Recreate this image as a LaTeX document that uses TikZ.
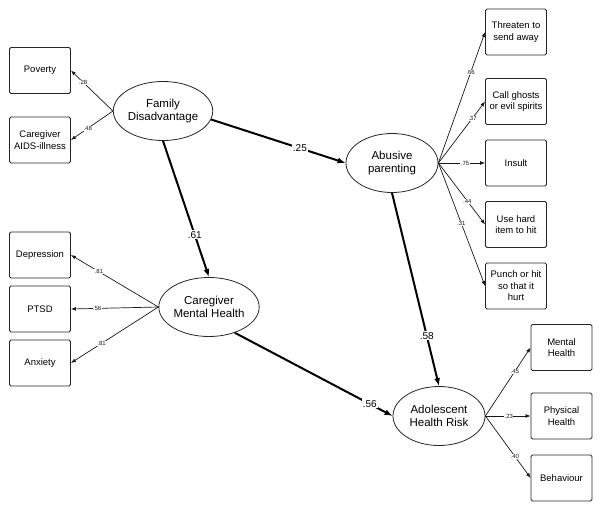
\documentclass[tikz,border=0pt]{standalone}
\usepackage{fontspec}
\setmainfont{Liberation Sans}
\usetikzlibrary{shapes.geometric,arrows.meta}
\begin{document}
\begin{tikzpicture}[x=1pt,y=-1pt,
  obsbox/.style={draw=black!85,line width=0.8pt,rounded corners=1.5pt,minimum width=61pt,minimum height=46pt,inner sep=1pt,align=center,font=\fontsize{9.5}{11.5}\selectfont},
  latent/.style={draw=black!85,line width=0.8pt,ellipse,minimum width=92pt,minimum height=59pt,inner sep=0pt,align=center,font=\fontsize{11.5}{13.5}\selectfont},
  thinarrow/.style={draw=black!90,line width=0.7pt,-{Latex[length=5pt,width=3.8pt]}},
  thickarrow/.style={draw=black,line width=2pt,-{Latex[length=8pt,width=6pt]}},
  smalllab/.style={fill=white,inner sep=0.4pt,font=\fontsize{6}{6.5}\selectfont,text=black!90},
  biglab/.style={fill=white,inner sep=1pt,font=\fontsize{10}{11}\selectfont}]
\useasboundingbox (0,0) rectangle (602,511);
% latent variables
\node[latent] (fd) at (163,111) {Family\\Disadvantage};
\node[latent] (ap) at (392,163) {Abusive\\parenting};
\node[latent] (cmh) at (209,307) {Caregiver\\Mental Health};
\node[latent] (ahr) at (439,416) {Adolescent\\Health Risk};
% observed left
\node[obsbox] (pov) at (40,70.5) {Poverty};
\node[obsbox] (aids) at (40,140) {Caregiver\\AIDS-illness};
\node[obsbox] (dep) at (40,255) {Depression};
\node[obsbox] (ptsd) at (40,309) {PTSD};
\node[obsbox] (anx) at (40,363) {Anxiety};
% observed right
\node[obsbox] (thr) at (516,32) {Threaten to\\send away};
\node[obsbox] (ghost) at (516,101.5) {Call ghosts\\or evil spirits};
\node[obsbox] (ins) at (516,163) {Insult};
\node[obsbox] (hard) at (516,224.5) {Use hard\\item to hit};
\node[obsbox] (punch) at (516,286) {Punch or hit\\so that it\\hurt};
\node[obsbox] (mh) at (561.5,347.5) {Mental\\Health};
\node[obsbox] (ph) at (561.5,416) {Physical\\Health};
\node[obsbox] (beh) at (561.5,478) {Behaviour};
% thin loadings
\draw[thinarrow] (fd.west) -- node[smalllab,pos=0.71] {.28} (pov.east);
\draw[thinarrow] (fd.west) -- node[smalllab,pos=0.6] {.48} (aids.east);
\draw[thinarrow] (cmh.west) -- node[smalllab,pos=0.68] {.81} (dep.east);
\draw[thinarrow] (cmh.west) -- node[smalllab,pos=0.7] {.56} (ptsd.east);
\draw[thinarrow] (cmh.west) -- node[smalllab,pos=0.65] {.81} (anx.east);
\draw[thinarrow] (ap.east) -- node[smalllab,pos=0.69] {.66} (thr.west);
\draw[thinarrow] (ap.east) -- node[smalllab,pos=0.73] {.37} (ghost.west);
\draw[thinarrow] (ap.east) -- node[smalllab,pos=0.57] {.75} (ins.west);
\draw[thinarrow] (ap.east) -- node[smalllab,pos=0.62] {.44} (hard.west);
\draw[thinarrow] (ap.east) -- node[smalllab,pos=0.49] {.31} (punch.west);
\draw[thinarrow] (ahr.east) -- node[smalllab,pos=0.65] {.45} (mh.west);
\draw[thinarrow] (ahr.east) -- node[smalllab,pos=0.52] {.23} (ph.west);
\draw[thinarrow] (ahr.east) -- node[smalllab,pos=0.65] {.40} (beh.west);
% structural paths
\draw[thickarrow] (fd.-10) -- node[biglab,pos=0.66] {.25} (ap.west);
\draw[thickarrow] (fd.south) -- node[biglab,pos=0.69] {.61} (cmh.north);
\draw[thickarrow] (ap.south) -- node[biglab,pos=0.74] {.58} (ahr.north);
\draw[thickarrow] (cmh.-45) -- node[biglab,pos=0.855] {.56} (ahr.west);
\end{tikzpicture}
\end{document}
